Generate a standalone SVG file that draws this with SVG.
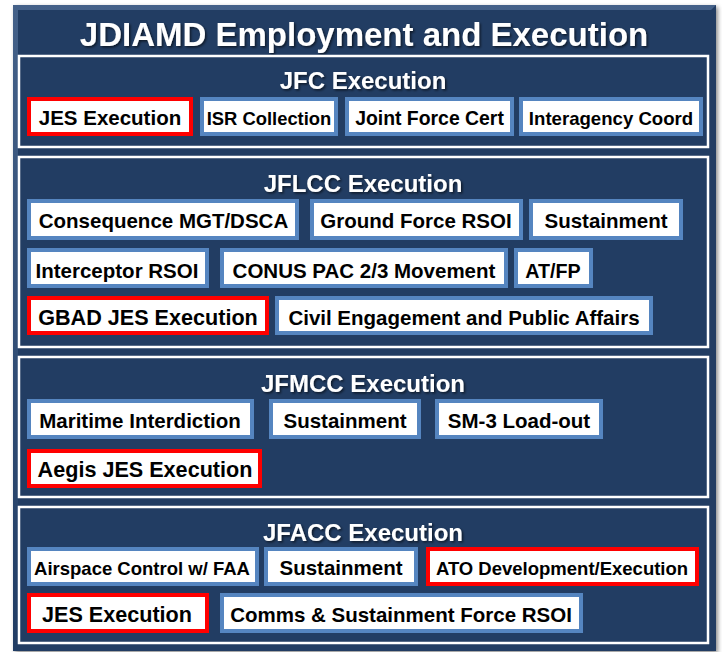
<svg xmlns="http://www.w3.org/2000/svg" width="722" height="652" viewBox="0 0 722 652">
<defs>
<filter id="ts" x="-10%" y="-30%" width="120%" height="160%"><feDropShadow dx="1.5" dy="1.5" stdDeviation="0.8" flood-color="#000" flood-opacity="0.6"/></filter>
<filter id="fs" x="-5%" y="-5%" width="110%" height="110%"><feDropShadow dx="2" dy="2" stdDeviation="2" flood-color="#000" flood-opacity="0.45"/></filter>
<linearGradient id="bev" x1="0" y1="0" x2="0" y2="1"><stop offset="0" stop-color="#4d6a92"/><stop offset="1" stop-color="#203c64"/></linearGradient>
</defs>
<style>
.sec{fill:none;stroke:#fff;stroke-width:2.5}
.st{font-family:"Liberation Sans",Arial,sans-serif;font-weight:bold;font-size:24px;fill:#fff;text-anchor:middle}
.n{fill:#fff;stroke:#5585c0;stroke-width:4}
.r{fill:#fff;stroke:#ff0000;stroke-width:4}
.t{font-family:"Liberation Sans",Arial,sans-serif;font-weight:bold;font-size:20.5px;fill:#000;text-anchor:middle}
</style>
<rect x="0" y="0" width="722" height="652" fill="#fff"/>
<g id="frame">
<rect x="13" y="5" width="703" height="646" fill="#203c64" filter="url(#fs)"/>
<path d="M13 5 H716 L711 10 H18 V651 L13 651 Z" fill="url(#bev)" opacity="0.8"/>
<text x="364" y="46" class="st" style="font-size:33px" filter="url(#ts)">JDIAMD Employment and Execution</text>
</g>
<g id="jfc">
<rect class="sec" x="19" y="56" width="689" height="91"/>
<text class="st" x="363" y="89" filter="url(#ts)">JFC Execution</text>
</g>
<g id="jflcc">
<rect class="sec" x="19" y="157" width="689" height="190"/>
<text class="st" x="363" y="192" filter="url(#ts)">JFLCC Execution</text>
</g>
<g id="jfmcc">
<rect class="sec" x="19" y="357" width="689" height="140"/>
<text class="st" x="363" y="392" filter="url(#ts)">JFMCC Execution</text>
</g>
<g id="jfacc">
<rect class="sec" x="19" y="507" width="689" height="136"/>
<text class="st" x="363" y="541" filter="url(#ts)">JFACC Execution</text>
</g>
<g id="connectors"></g>
<g id="jfc-jes"><rect class="r" x="29" y="99" width="162" height="35"/><text class="t" x="110" y="125">JES Execution</text></g>
<g id="jfc-isr"><rect class="n" x="202" y="99" width="134" height="35"/><text class="t" x="269" y="125" style="font-size:18.4px">ISR Collection</text></g>
<g id="jfc-jfcert"><rect class="n" x="347" y="99" width="165" height="35"/><text class="t" x="429.5" y="125" style="font-size:19.4px">Joint Force Cert</text></g>
<g id="jfc-iac"><rect class="n" x="521" y="99" width="180" height="35"/><text class="t" x="611" y="125" style="font-size:18.6px">Interagency Coord</text></g>

<g id="jflcc-cm"><rect class="n" x="29" y="201" width="268" height="37"/><text class="t" x="163.5" y="228">Consequence MGT/DSCA</text></g>
<g id="jflcc-gf"><rect class="n" x="312" y="201" width="209" height="37"/><text class="t" x="416" y="228">Ground Force RSOI</text></g>
<g id="jflcc-sus"><rect class="n" x="531" y="201" width="150" height="37"/><text class="t" x="606" y="228">Sustainment</text></g>
<g id="jflcc-int"><rect class="n" x="29" y="250" width="178" height="36"/><text class="t" x="117" y="278">Interceptor RSOI</text></g>
<g id="jflcc-conus"><rect class="n" x="222" y="250" width="284" height="36"/><text class="t" x="364" y="278">CONUS PAC 2/3 Movement</text></g>
<g id="jflcc-atfp"><rect class="n" x="516" y="250" width="75" height="36"/><text class="t" x="553" y="278" style="font-size:19.7px">AT/FP</text></g>
<g id="jflcc-gbad"><rect class="r" x="29" y="298" width="238" height="35"/><text class="t" x="148" y="325" style="font-size:21.6px">GBAD JES Execution</text></g>
<g id="jflcc-civil"><rect class="n" x="277" y="298" width="374" height="35"/><text class="t" x="464" y="325">Civil Engagement and Public Affairs</text></g>

<g id="jfmcc-mi"><rect class="n" x="29" y="401" width="223" height="36"/><text class="t" x="140" y="428">Maritime Interdiction</text></g>
<g id="jfmcc-sus"><rect class="n" x="271" y="401" width="148" height="36"/><text class="t" x="345" y="428">Sustainment</text></g>
<g id="jfmcc-sm3"><rect class="n" x="437" y="401" width="164" height="36"/><text class="t" x="519" y="428">SM-3 Load-out</text></g>
<g id="jfmcc-aegis"><rect class="r" x="29" y="451" width="231" height="35"/><text class="t" x="145" y="477" style="font-size:21.6px">Aegis JES Execution</text></g>

<g id="jfacc-air"><rect class="n" x="29" y="549" width="228" height="35"/><text class="t" x="142" y="575" style="font-size:18.5px">Airspace Control w/ FAA</text></g>
<g id="jfacc-sus"><rect class="n" x="266" y="549" width="150" height="35"/><text class="t" x="341" y="575">Sustainment</text></g>
<g id="jfacc-ato"><rect class="r" x="428" y="549" width="269" height="35"/><text class="t" x="562" y="575" style="font-size:18.5px">ATO Development/Execution</text></g>
<g id="jfacc-jes"><rect class="r" x="29" y="595" width="178" height="36"/><text class="t" x="117" y="622" style="font-size:21.6px">JES Execution</text></g>
<g id="jfacc-comms"><rect class="n" x="222" y="595" width="359" height="36"/><text class="t" x="401" y="622">Comms &amp; Sustainment Force RSOI</text></g>
</svg>
